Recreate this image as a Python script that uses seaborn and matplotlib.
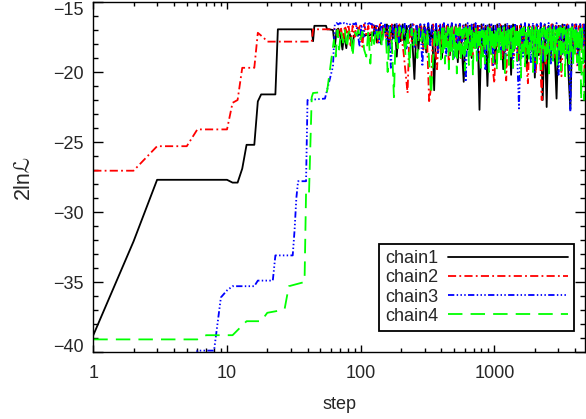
import numpy as np
import pandas as pd
import matplotlib
matplotlib.use("Agg")
import matplotlib.pyplot as plt
import matplotlib.ticker as mticker
import seaborn as sns

# early (burn-in) part of each chain: step -> 2lnL
chain1_steps = [1, 2, 3, 10, 11, 12, 13, 14, 16, 17, 18, 23, 24, 43, 44, 45, 55, 56, 58]
chain1_early = [-38.8, -32.1, -27.7, -27.7, -27.9, -27.9, -26.9, -25.2, -25.2, -22.1, -21.6,
                -21.6, -16.95, -16.95, -17.8, -16.7, -16.7, -16.95, -16.95]

chain2_steps = [1, 2, 3, 5, 6, 10, 11, 12, 13, 16, 17, 18, 19, 20, 43, 44, 60]
chain2_early = [-27.05, -27.05, -25.3, -25.3, -24.1, -24.1, -22.2, -22.0, -19.7, -19.7,
                -17.2, -17.4, -17.6, -17.83, -17.83, -16.95, -16.95]

chain3_steps = [1, 5, 6, 8, 9, 10, 11, 16, 17, 22, 23, 31, 32, 33, 34, 39, 40, 54]
chain3_early = [-45.0, -45.0, -39.9, -39.9, -36.1, -35.6, -35.3, -35.3, -34.9, -34.9, -33.1,
                -33.1, -31.3, -29.0, -27.8, -27.8, -22.0, -21.9]

chain4_steps = [1, 6, 7, 11, 14, 18, 20, 26, 27, 29, 38, 39, 41, 43, 44, 56]
chain4_early = [-39.1, -39.1, -38.8, -38.8, -37.8, -37.8, -37.2, -37.0, -36.9, -35.3, -35.0,
                -28.6, -28.8, -21.8, -21.5, -21.4]

# sampled steps of the equilibrated part (chains 1 and 3)
noise_steps_a = [62, 64, 66, 68, 70, 73, 75, 78, 80, 83, 86, 89, 92, 95, 98, 101, 105, 108, 112, 116,
                 120, 124, 128, 132, 137, 142, 147, 152, 157, 162, 168, 174, 180, 186, 192, 199, 206,
                 213, 220, 228, 236, 244, 252, 261, 270, 279, 289, 299, 309, 320, 331, 342, 354, 366,
                 379, 392, 405, 419, 434, 449, 464, 480, 497, 514, 532, 550, 569, 589, 609, 630, 652,
                 675, 698, 722, 747, 773, 800, 827, 856, 886, 916, 948, 981, 1015, 1050, 1086, 1124,
                 1163, 1203, 1245, 1288, 1332, 1378, 1426, 1475, 1526, 1579, 1634, 1690, 1749, 1809,
                 1872, 1937, 2004, 2073, 2145, 2219, 2296, 2375, 2457, 2542, 2630, 2721, 2815, 2913,
                 3013, 3118, 3225, 3337, 3452, 3572, 3695, 3823, 3955, 4092, 4233, 4380, 4531, 4688, 4750]
# (chain 2, and chain 4 up to step 398)
noise_steps_b = [63, 65, 67, 69, 71, 74, 76, 79, 81, 84, 87, 90, 93, 96, 99, 103, 106, 110, 114, 118,
                 122, 126, 130, 134, 139, 144, 149, 154, 159, 165, 171, 177, 183, 189, 195, 202, 209,
                 216, 224, 232, 240, 248, 256, 265, 274, 284, 294, 304, 314, 325, 336, 348, 360, 372,
                 385, 398, 412, 426, 441, 456, 472, 488, 505, 523, 541, 559, 579, 599, 619, 641, 663,
                 686, 710, 734, 760, 786, 813, 841, 871, 901, 932, 964, 998, 1032, 1068, 1105, 1143,
                 1183, 1224, 1266, 1310, 1355, 1402, 1450, 1500, 1552, 1606, 1662, 1719, 1779, 1840,
                 1904, 1970, 2038, 2109, 2182, 2257, 2335, 2416, 2499, 2586, 2675, 2768, 2864, 2963,
                 3065, 3171, 3281, 3394, 3512, 3633, 3759, 3889, 4023, 4162, 4306, 4455, 4609, 4720, 4750]
# chain 4 from step 405 on, sampled more finely
chain4_dense_steps = [405, 412, 419, 426, 434, 441, 449, 456, 464, 472, 480, 489, 497, 506, 514, 523,
                      532, 542, 551, 561, 570, 580, 590, 601, 611, 622, 633, 644, 655, 666, 678, 690,
                      702, 714, 726, 739, 752, 765, 778, 792, 805, 819, 834, 848, 863, 878, 893, 909,
                      925, 941, 957, 974, 991, 1008, 1026, 1043, 1062, 1080, 1099, 1118, 1137, 1157,
                      1177, 1198, 1219, 1240, 1262, 1283, 1306, 1329, 1352, 1375, 1399, 1424, 1448,
                      1474, 1499, 1525, 1552, 1579, 1607, 1635, 1663, 1692, 1721, 1751, 1782, 1813,
                      1844, 1876, 1909, 1942, 1976, 2010, 2045, 2081, 2117, 2154, 2192, 2230, 2269,
                      2308, 2348, 2389, 2431, 2473, 2516, 2560, 2605, 2650, 2696, 2743, 2791, 2840,
                      2889, 2939, 2991, 3043, 3096, 3150, 3205, 3261, 3317, 3375, 3434, 3494, 3555,
                      3617, 3680, 3744, 3809, 3875, 3943, 4011, 4081, 4152, 4225, 4298, 4373, 4449,
                      4527, 4606, 4686, 4750]

chain1_noise = [-17.0, -18.2, -17.0, -16.9, -17.3, -18.4, -17.3, -18.3, -17.4, -17.3,
                -18.3, -17.4, -17.3, -17.4, -17.3, -17.4, -17.3, -17.4, -17.3, -17.4,
                -17.3, -17.4, -16.7, -17.9, -16.8, -18.0, -16.7, -17.2, -16.6, -18.5,
                -16.7, -17.6, -16.6, -18.9, -16.7, -17.8, -16.6, -18.2, -16.7, -17.5,
                -16.6, -18.0, -20.5, -16.7, -18.4, -16.6, -17.9, -16.7, -18.6, -16.6,
                -17.7, -16.7, -21.3, -16.6, -18.3, -16.7, -19.0, -16.6, -17.9, -16.7,
                -18.8, -16.6, -17.7, -16.7, -19.3, -16.6, -18.1, -20.7, -16.6, -18.4,
                -16.7, -19.0, -16.6, -17.8, -16.7, -22.7, -16.6, -18.6, -16.7, -21.0,
                -16.6, -18.2, -16.7, -19.4, -16.6, -17.9, -16.7, -19.8, -16.6, -18.3,
                -16.7, -20.2, -16.6, -18.0, -16.7, -19.1, -16.6, -18.5, -16.7, -19.6,
                -16.6, -18.2, -16.7, -20.4, -16.6, -18.8, -16.7, -22.0, -16.6, -22.5,
                -16.7, -19.0, -16.6, -18.4, -21.9, -16.7, -19.3, -16.6, -18.1, -16.7,
                -20.0, -22.7, -16.6, -18.6, -16.7, -19.2, -16.6, -18.0, -16.7, -18.9]

chain2_noise = [-16.9, -17.0, -16.9, -17.4, -16.8, -17.9, -16.7, -17.2, -16.6, -18.1,
                -16.7, -17.5, -16.6, -17.0, -16.7, -18.2, -16.6, -17.3, -16.7, -17.8,
                -16.6, -17.1, -16.7, -17.9, -16.6, -17.4, -16.7, -17.5, -16.8, -18.0,
                -16.6, -17.6, -16.7, -18.3, -16.6, -17.5, -18.6, -20.0, -21.5, -16.7,
                -17.8, -16.6, -18.1, -16.7, -17.6, -16.6, -18.4, -16.7, -17.9, -22.2,
                -21.0, -16.6, -18.0, -19.8, -16.7, -18.7, -16.6, -17.8, -16.7, -19.4,
                -16.6, -18.2, -16.7, -17.9, -16.6, -19.0, -16.7, -18.3, -16.6, -17.7,
                -16.7, -18.9, -16.6, -18.0, -16.7, -19.2, -16.6, -18.4, -16.7, -17.9,
                -16.6, -19.5, -20.8, -16.7, -18.2, -16.6, -19.1, -16.7, -20.6, -16.6,
                -18.0, -16.7, -18.8, -16.6, -19.3, -16.7, -18.1, -16.6, -19.0, -20.8,
                -16.7, -18.5, -16.6, -20.1, -16.7, -18.3, -22.0, -16.6, -19.4, -16.7,
                -18.2, -16.6, -19.0, -16.7, -18.6, -16.6, -20.3, -16.7, -18.4, -16.6,
                -19.1, -16.7, -18.0, -16.6, -19.6, -16.7, -18.5, -16.6, -20.0, -16.7]

chain3_noise = [-19.6, -16.6, -16.5, -16.6, -16.5, -16.6, -16.5, -16.6, -16.5, -16.6,
                -16.5, -16.6, -16.5, -17.2, -18.2, -16.6, -17.5, -16.5, -16.6, -16.5,
                -16.6, -16.5, -17.4, -16.6, -17.9, -16.5, -17.0, -16.6, -18.1, -16.7,
                -19.7, -16.6, -17.6, -16.5, -18.0, -16.6, -17.3, -16.5, -18.4, -16.6,
                -17.2, -16.5, -18.3, -16.6, -17.7, -16.5, -19.6, -16.6, -17.5, -16.5,
                -18.2, -16.6, -17.6, -16.5, -18.7, -16.6, -17.4, -16.5, -18.9, -16.6,
                -17.8, -16.5, -19.0, -16.6, -18.2, -16.5, -17.9, -16.6, -20.7, -16.5,
                -18.4, -16.6, -17.8, -16.5, -19.2, -16.6, -18.0, -16.5, -19.8, -16.6,
                -18.3, -16.5, -19.5, -16.6, -17.9, -16.5, -18.8, -16.6, -19.3, -16.5,
                -18.1, -16.6, -19.7, -16.5, -18.4, -22.6, -16.6, -18.9, -16.5, -18.2,
                -16.6, -19.4, -16.5, -20.0, -16.6, -18.6, -16.5, -19.2, -16.6, -18.0,
                -16.5, -19.5, -16.6, -18.3, -16.5, -20.2, -16.6, -18.7, -16.5, -19.0,
                -16.6, -22.8, -16.5, -18.5, -16.6, -19.6, -16.5, -18.2, -16.6, -19.3]

chain4_noise = [-17.7, -18.9, -17.0, -18.4, -17.1, -17.9, -17.0, -18.3, -17.2, -17.0,
                -18.9, -17.1, -17.4, -17.0, -17.8, -17.1, -18.4, -18.9, -17.0, -19.4,
                -17.1, -18.0, -16.9, -17.6, -16.8, -18.2, -16.9, -17.4, -20.0, -16.8,
                -17.9, -21.8, -16.9, -18.3, -16.8, -17.7, -16.9, -18.8, -16.8, -19.6,
                -16.9, -18.1, -16.8, -19.0, -16.9, -17.8, -16.8, -18.6, -16.9, -19.3,
                -21.6, -19.0, -16.8, -18.4, -16.9, -19.1]

chain4_dense = [-16.9, -18.6, -16.8, -19.4, -17.0, -18.2, -16.8, -19.8, -16.9, -18.5, -16.8, -19.1,
                -17.0, -18.9, -16.8, -20.1, -16.9, -18.4, -16.8, -19.3, -17.0, -18.7, -16.9, -19.9,
                -16.8, -18.3, -16.9, -19.5, -16.8, -18.8, -17.0, -20.3, -16.9, -18.6, -16.8, -19.2,
                -16.9, -18.4, -16.8, -19.7, -17.0, -18.9, -16.8, -19.4, -16.9, -18.2, -16.8, -20.0,
                -16.9, -18.7, -16.8, -19.3, -17.0, -18.5, -16.8, -19.9, -16.9, -18.8, -16.8, -19.1,
                -17.0, -18.4, -16.8, -20.2, -16.9, -18.6, -16.8, -19.5, -17.0, -18.9, -16.9, -19.7,
                -16.8, -18.3, -16.9, -19.2, -16.8, -18.7, -17.0, -20.4, -16.9, -18.5, -16.8, -19.6,
                -16.9, -18.8, -16.8, -19.3, -17.0, -18.4, -16.8, -20.0, -16.9, -18.9, -16.8, -19.4,
                -17.0, -18.6, -16.8, -19.8, -16.9, -18.3, -16.8, -19.5, -17.0, -18.7, -16.9, -20.1,
                -16.8, -18.5, -16.9, -19.2, -16.8, -18.9, -17.0, -19.7, -16.9, -18.4, -16.8, -19.9,
                -16.9, -18.6, -16.8, -20.3, -17.0, -18.8, -16.8, -19.4, -16.9, -18.5, -16.8, -19.6,
                -17.0, -18.7, -16.8, -19.3, -16.9, -20.0, -16.8, -22.0, -16.9, -19.1, -22.0, -18.0]

chain_names = ["chain1", "chain2", "chain3", "chain4"]
chain_colors = ["#000000", "#FF0000", "#0000FF", "#00FF00"]
chain_dashes = ["", (4.5, 1.8, 1.0, 1.8), (3.5, 1.3, 0.8, 1.3, 0.8, 1.3, 0.8, 1.3), (8, 4.5)]

x_ticks = [1, 10, 100, 1000]
x_ticklabels = ["1", "10", "100", "1000"]
y_ticks = [-40, -35, -30, -25, -20, -15]

all_steps = [chain1_steps + noise_steps_a,
             chain2_steps + noise_steps_b,
             chain3_steps + noise_steps_a,
             chain4_steps + noise_steps_b[:len(chain4_noise)] + chain4_dense_steps]
all_values = [chain1_early + chain1_noise,
              chain2_early + chain2_noise,
              chain3_early + chain3_noise,
              chain4_early + chain4_noise + chain4_dense]

frames = []
for name, s, v in zip(chain_names, all_steps, all_values):
    frames.append(pd.DataFrame({"step": s, "lnL": v, "chain": name}))
df = pd.concat(frames, ignore_index=True)

sns.set_theme(style="ticks")
plt.rcParams["font.family"] = ["Liberation Sans", "DejaVu Sans"]
plt.rcParams["axes.unicode_minus"] = True

fig = plt.figure(figsize=(5.86, 4.19), dpi=100)
ax = fig.add_axes([0.1592, 0.1599, 0.839, 0.8353])

sns.lineplot(data=df, x="step", y="lnL", hue="chain", style="chain",
             palette=dict(zip(chain_names, chain_colors)),
             dashes=dict(zip(chain_names, chain_dashes)),
             estimator=None, sort=False, linewidth=1.3, ax=ax)

ax.set_xscale("log")
ax.set_xlim(1, 4750)
ax.set_ylim(-40, -15)
ax.set_xticks(x_ticks)
ax.set_xticklabels(x_ticklabels)
ax.xaxis.set_minor_locator(mticker.LogLocator(base=10, subs=np.arange(2, 10), numticks=20))
ax.xaxis.set_minor_formatter(mticker.NullFormatter())
ax.set_yticks(y_ticks)
ax.yaxis.set_minor_locator(mticker.MultipleLocator(1))

for sp in ax.spines.values():
    sp.set_linewidth(1.0)
    sp.set_color("black")
    sp.set_visible(True)

ax.tick_params(which="both", direction="in", top=True, right=True, color="black", width=1.0)
ax.tick_params(axis="x", which="major", length=5, pad=9.5, labelsize=13)
ax.tick_params(axis="x", which="minor", length=3)
ax.tick_params(axis="y", which="major", length=7, pad=7, labelsize=13)
ax.tick_params(axis="y", which="minor", length=3.6)

# keep the end labels inside the frame, as in the original
ylabels = ax.get_yticklabels()
ylabels[0].set_verticalalignment("baseline")
ylabels[-1].set_verticalalignment("top")

ax.set_xlabel("step", fontsize=13, labelpad=10)
ax.set_ylabel("2lnℒ", fontsize=15.5, labelpad=14)

handles, labels = ax.get_legend_handles_labels()
leg = ax.legend(handles, labels, loc="lower right", bbox_to_anchor=(0.9776, 0.06),
                borderaxespad=0, markerfirst=False, handlelength=6.6, handletextpad=0.55,
                fontsize=13, frameon=True, fancybox=False, framealpha=1,
                edgecolor="black", labelspacing=0.12, borderpad=0.35)
leg.get_frame().set_linewidth(1.3)

fig.savefig("out.png", dpi=100)
